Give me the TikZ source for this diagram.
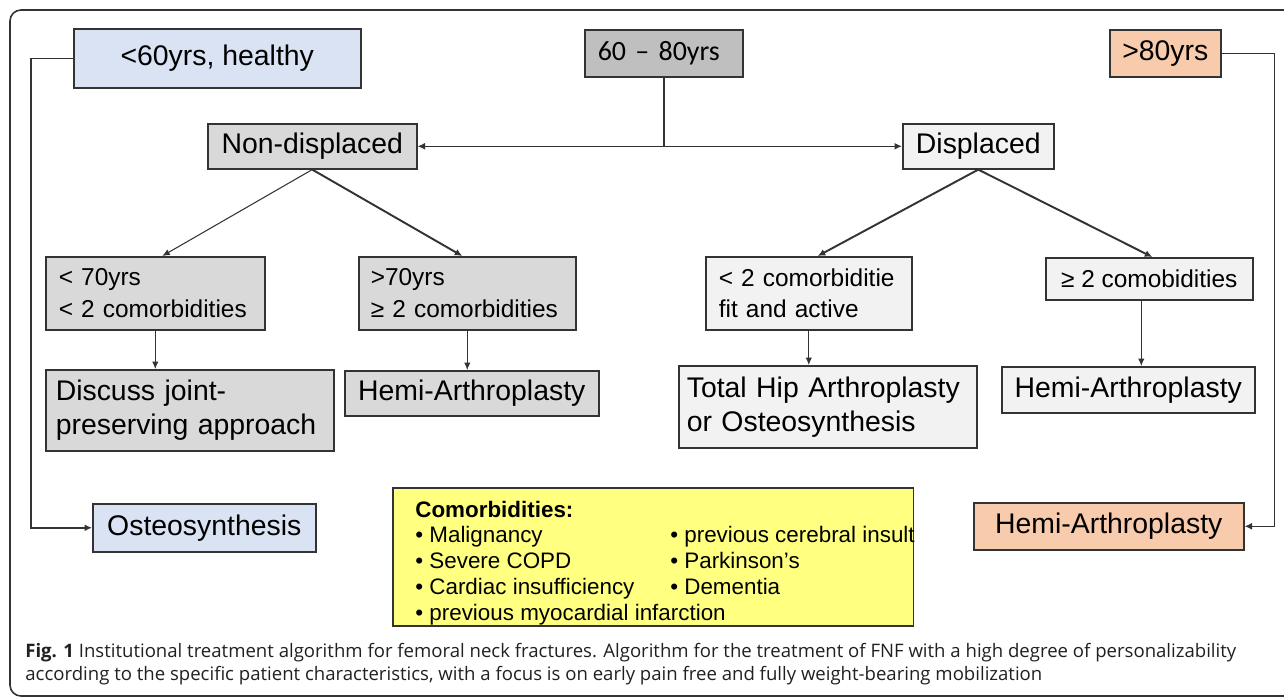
\documentclass[tikz,border=0pt]{standalone}
\usepackage{fontspec}
\setmainfont{Liberation Sans}
\newfontfamily\calib{Carlito}
\newfontfamily\capfont{Open Sans}
\usetikzlibrary{arrows.meta}
\definecolor{bluebox}{HTML}{DAE3F3}
\definecolor{midgray}{HTML}{BFBFBF}
\definecolor{darkbox}{HTML}{D9D9D9}
\definecolor{lightbox}{HTML}{F2F2F2}
\definecolor{orangebox}{HTML}{F8CBAD}
\definecolor{yellowbox}{HTML}{FFFF80}
\definecolor{edge}{HTML}{333333}
\definecolor{captext}{HTML}{231F20}
\newcommand{\fsbig}{\fontsize{16.16pt}{19.3pt}\selectfont}
\newcommand{\fsmid}{\fontsize{13.9pt}{18.1pt}\selectfont}
\newcommand{\fssmall}{\fontsize{12.75pt}{14.74pt}\selectfont}
\newcommand{\fscap}{\fontsize{10.57pt}{13pt}\selectfont}
\begin{document}
\begin{tikzpicture}[x=0.02cm,y=-0.02cm,
  box/.style={draw=edge, line width=0.9pt, inner sep=0pt, anchor=north west},
  bigtext/.style={font=\fsbig},
  midtext/.style={font=\fsmid},
  conn/.style={draw=edge, line width=0.85pt, -{Latex[length=0.15cm,width=0.14cm]}},
  thickconn/.style={draw=edge, line width=1.1pt, -{Latex[length=0.15cm,width=0.14cm]}},
  thinconn/.style={draw=edge, line width=0.6pt, -{Latex[length=0.15cm,width=0.13cm]}},
  captxt/.style={anchor=base west, inner sep=0pt, font=\capfont\fscap, text=captext}]
\useasboundingbox (0,0) rectangle (1284,697);
\begin{scope}
\clip (0,0) rectangle (1284,697);
\draw[edge, line width=0.9pt, rounded corners=0.22cm] (10,10) rectangle (1300,696);
\end{scope}

% top row
\node[box, fill=bluebox, bigtext, minimum width=5.74cm, minimum height=1.18cm] (lt60) at (73,28) {<60yrs, healthy};
\node[box, fill=midgray, font=\calib\fontsize{15.9pt}{19pt}\selectfont, minimum height=0.94cm, text width=2.64cm, inner xsep=0.26cm, align=left] (mid) at (584,29) {60 – 80yrs};
\node[box, fill=orangebox, bigtext, minimum width=2.22cm, minimum height=0.94cm] (gt80) at (1109,29) {>80yrs};

% second row
\node[box, fill=darkbox, bigtext, minimum width=4.18cm, minimum height=0.90cm] (nondisp) at (207,123) {Non-displaced};
\node[box, fill=lightbox, bigtext, minimum width=3.02cm, minimum height=0.90cm] (disp) at (902,123) {Displaced};

% third row
\node[box, fill=darkbox, midtext, minimum height=1.46cm, text width=3.86cm, inner xsep=0.26cm, align=left] (lt70) at (45,256) {< 70yrs\\< 2 comorbidities};
\node[box, fill=darkbox, midtext, minimum height=1.46cm, text width=3.86cm, inner xsep=0.24cm, align=left] (gt70) at (358,256) {>70yrs\\≥ 2 comorbidities};
\node[box, fill=lightbox, midtext, minimum height=1.46cm, text width=3.60cm, inner xsep=0.26cm, align=left] (lt2) at (705,256) {< 2 comorbiditie\\fit and active};
\node[box, fill=lightbox, midtext, minimum width=4.14cm, minimum height=0.84cm] (ge2) at (1045,257) {≥ 2 comobidities};

% fourth row
\node[box, fill=darkbox, bigtext, minimum height=1.62cm, text width=5.36cm, inner xsep=0.20cm, align=left] (discuss) at (45,369) {Discuss joint-\\preserving approach};
\node[box, fill=darkbox, bigtext, minimum width=5.08cm, minimum height=0.90cm] (hemi1) at (344,370) {Hemi-Arthroplasty};
\node[box, fill=lightbox, bigtext, minimum height=1.64cm, text width=5.64cm, inner xsep=0.16cm, align=left] (thip) at (678,365) {Total Hip Arthroplasty\\or Osteosynthesis};
\node[box, fill=lightbox, bigtext, minimum width=5.06cm, minimum height=0.92cm] (hemi2) at (1001,366) {Hemi-Arthroplasty};

% bottom row
\node[box, fill=bluebox, bigtext, minimum width=4.46cm, minimum height=0.96cm] (osteo) at (92,503) {Osteosynthesis};
\node[box, fill=orangebox, bigtext, minimum width=5.40cm, minimum height=0.94cm] (hemi3) at (973,502) {Hemi-Arthroplasty\hspace{0.28cm}};
\node[box, fill=yellowbox, minimum width=10.42cm, minimum height=2.76cm] (comorb) at (392,487) {};
\node[anchor=base west, inner sep=0pt, font=\fssmall] (comtext) at (415,517)
  {\begin{tabular}[t]{@{}p{5.1cm}@{}l@{}}
   \textbf{Comorbidities:} & \\
   • Malignancy & • previous cerebral insult\\
   • Severe COPD & • Parkinson’s\\
   • Cardiac insufficiency & • Dementia\\
   \multicolumn{2}{@{}l@{}}{• previous myocardial infarction}
   \end{tabular}};

% connectors
\draw[conn] (mid.south) |- (nondisp.east);
\draw[conn] (mid.south) |- (disp.west);
\draw[conn] (lt60.west) -- ++(-42,0) |- (osteo.west);
\draw[conn] (gt80.east) -- ++(53,0) |- (hemi3.east);

\draw[thinconn] (nondisp.south) -- ([xshift=0.14cm]lt70.north);
\draw[thickconn] (nondisp.south) -- ([xshift=-0.10cm]gt70.north);
\draw[thickconn] (disp.south) -- ([xshift=0.18cm]lt2.north);
\draw[thickconn] (disp.south) -- ([xshift=0.06cm]ge2.north);

\draw[thinconn] (lt70.south) -- (lt70.south |- discuss.north);
\draw[thinconn] (gt70.south) -- (gt70.south |- hemi1.north);
\draw[thinconn] (lt2.south) -- (lt2.south |- thip.north);
\draw[thinconn] ([xshift=-0.16cm]ge2.south) -- ([xshift=-0.16cm]ge2.south |- hemi2.north);

% caption
\node[captxt] (cap1) at (25,657) {\textbf{Fig. 1} Institutional treatment algorithm for femoral neck fractures. Algorithm for the treatment of FNF with a high degree of personalizability};
\node[captxt] (cap2) at (25,680) {according to the specific patient characteristics, with a focus is on early pain free and fully weight-bearing mobilization};
\end{tikzpicture}
\end{document}
